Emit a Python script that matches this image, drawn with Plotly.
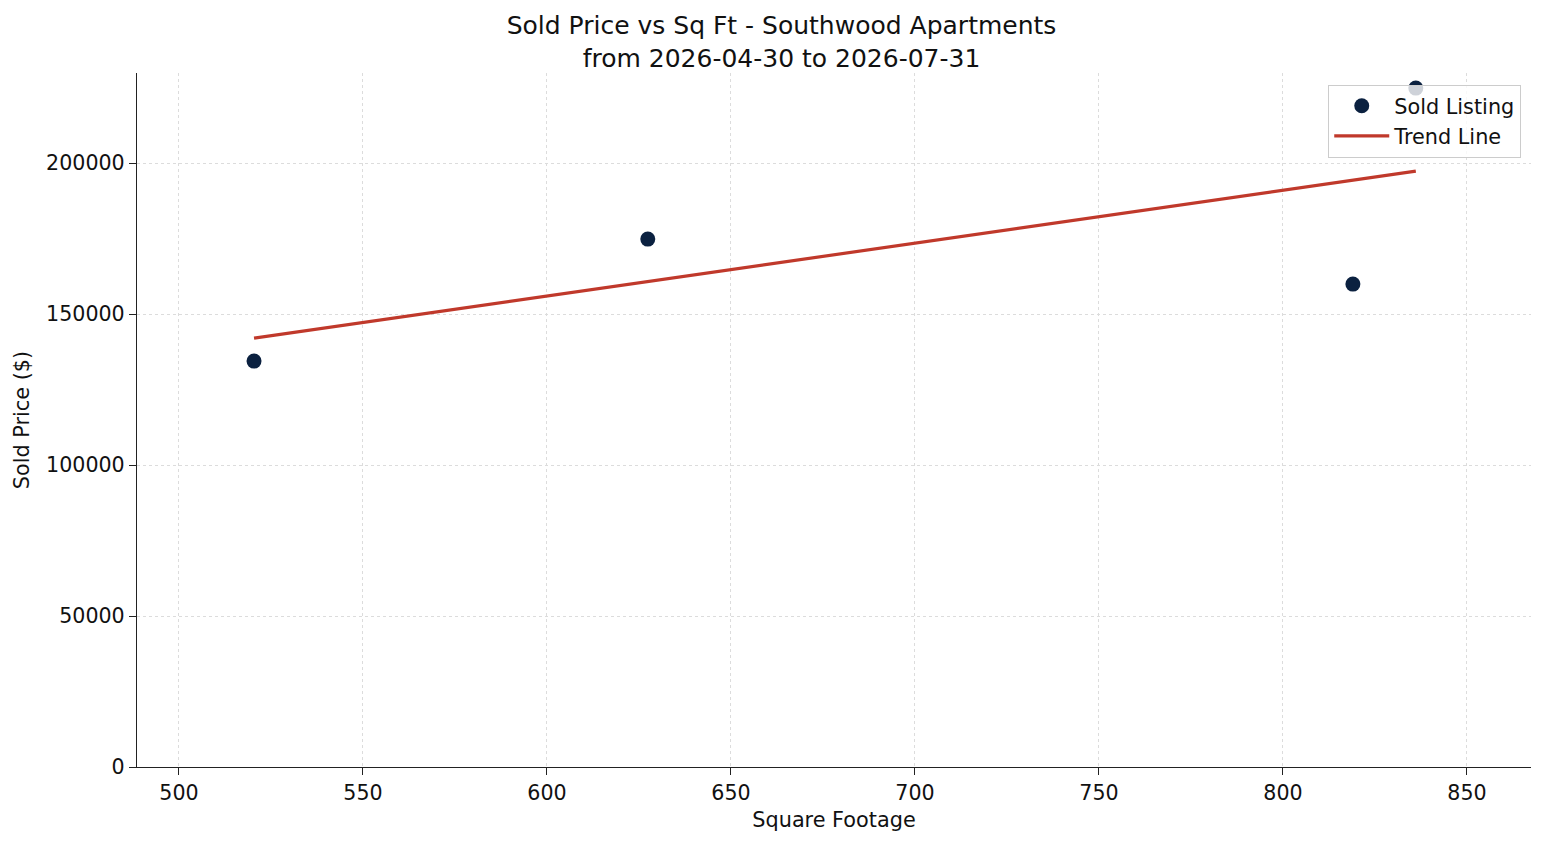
import plotly.graph_objects as go

# sold listings
sqft = [520.4, 627.4, 819.0, 836.1]
sold_price = [134400, 174800, 159900, 224800]

# trend line end points
trend_x = [520.4, 836.1]
trend_y = [142000, 197300]

x_ticks = [500, 550, 600, 650, 700, 750, 800, 850]
y_ticks = [0, 50000, 100000, 150000, 200000]

navy = "#0b2140"
red = "#c0392b"

fig = go.Figure()
fig.add_trace(go.Scatter(x=sqft, y=sold_price, mode="markers", name="Sold Listing",
                         marker=dict(color=navy, size=15)))
fig.add_trace(go.Scatter(x=trend_x, y=trend_y, mode="lines", name="Trend Line",
                         line=dict(color=red, width=3.2)))

axis_style = dict(showline=True, linecolor="#222", linewidth=1.3, ticks="outside",
                  ticklen=7, tickcolor="#222", tickwidth=1.3, showgrid=True,
                  gridcolor="#dcdcdc", griddash="3px,3px", gridwidth=0.8,
                  zeroline=False, tickfont=dict(size=20.6, color="#111"))

fig.update_layout(
    width=1547, height=845,
    paper_bgcolor="white", plot_bgcolor="white",
    font=dict(family="DejaVu Sans", color="#111", size=20.8),
    margin=dict(l=129, r=24, t=65, b=86),
    title=dict(text="Sold Price vs Sq Ft - Southwood Apartments<br>from 2026-04-30 to 2026-07-31",
               x=0.5, xanchor="center", y=0.969, yanchor="middle", font=dict(size=25)),
    xaxis=dict(axis_style, range=[488.6, 867.4], tickvals=x_ticks,
               title=dict(text="Square Footage", font=dict(size=20.8), standoff=8)),
    yaxis=dict(axis_style, range=[0, 229800], tickvals=y_ticks, tickformat="d",
               title=dict(text="Sold Price ($)", font=dict(size=20.8), standoff=10)),
    legend=dict(x=0.993, y=0.983, xanchor="right", yanchor="top", itemwidth=55,
                bgcolor="rgba(255,255,255,0.8)", bordercolor="#cccccc", borderwidth=1,
                font=dict(size=20.8)),
    showlegend=True,
)

fig.write_html("out.html")
